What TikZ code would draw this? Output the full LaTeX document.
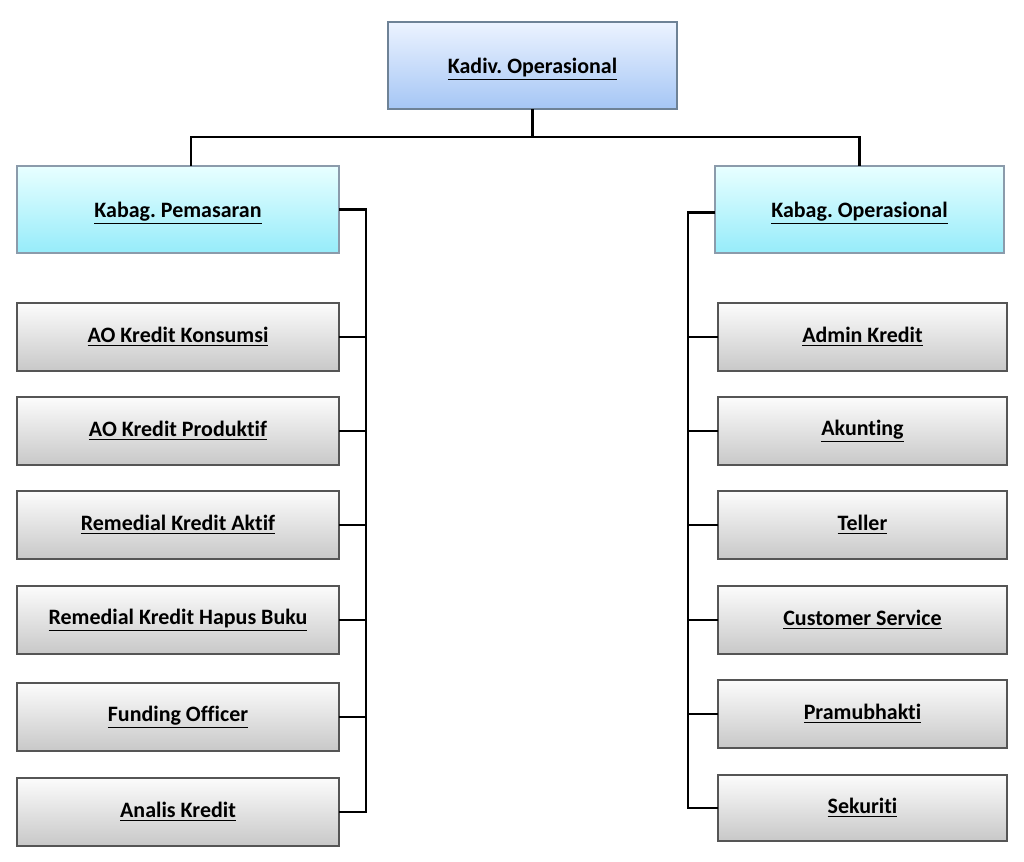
\documentclass[tikz,border=0pt]{standalone}
\usepackage{fontspec}
\setmainfont{Carlito}[Ligatures=NoCommon]
\usetikzlibrary{positioning, calc, shadings}
\definecolor{headtop}{RGB}{236,243,255}
\definecolor{headbot}{RGB}{165,198,245}
\definecolor{kabtop}{RGB}{232,255,255}
\definecolor{kabbot}{RGB}{150,236,250}
\definecolor{stafftop}{RGB}{252,252,252}
\definecolor{staffbot}{RGB}{200,200,200}
\definecolor{edgeblue}{RGB}{110,130,150}
\definecolor{edgegray}{RGB}{85,85,85}
\frenchspacing
\tikzset{
    font=\fontsize{12.5}{15}\selectfont\bfseries,
    outer sep=0pt,
    org_head/.style={
        rectangle,
        draw=edgeblue,
        top color=headtop,
        bottom color=headbot,
        line width=1pt,
        minimum width=5.78cm,
        minimum height=1.74cm,
        text depth=0pt,
        align=center
    },
    org_kabag/.style={
        rectangle,
        draw=edgeblue!80,
        top color=kabtop,
        bottom color=kabbot,
        line width=1pt,
        minimum width=6.44cm,
        minimum height=1.74cm,
        text depth=0pt,
        align=center
    },
    org_staff/.style={
        rectangle,
        draw=edgegray,
        top color=stafftop,
        bottom color=staffbot,
        line width=1pt,
        minimum width=6.44cm,
        minimum height=1.36cm,
        align=center
    },
    org_line/.style={
        line width=1.2pt,
        draw=black
    }
}
\newcommand{\ultext}[1]{\underline{#1}}

\begin{document}
\begin{tikzpicture}
\useasboundingbox (0,0) rectangle (20.48,-17.22);

% --- Head ---
\node[org_head] (Kadiv) at (10.65,-1.31) {\ultext{Kadiv. Operasional}};

% --- Kabag ---
\node[org_kabag] (KabPem) at (3.56,-4.19) {\ultext{Kabag. Pemasaran}};
\node[org_kabag, minimum width=5.78cm] (KabOps) at (17.19,-4.19) {\ultext{Kabag. Operasional}};

% --- Left column (Pemasaran) ---
\node[org_staff, below=1.0cm of KabPem] (AOKons) {\ultext{AO Kredit Konsumsi}};
\node[org_staff, below=0.52cm of AOKons] (AOProd) {\ultext{AO Kredit Produktif}};
\node[org_staff, below=0.52cm of AOProd] (RemAktif) {\ultext{Remedial Kredit Aktif}};
\node[org_staff, below=0.54cm of RemAktif] (RemHapus) {\ultext{Remedial Kredit Hapus Buku}};
\node[org_staff, below=0.58cm of RemHapus] (Funding) {\ultext{Funding Officer}};
\node[org_staff, below=0.54cm of Funding] (Analis) {\ultext{Analis Kredit}};

% --- Right column (Operasional) ---
\node[org_staff, minimum width=5.78cm, below=1.0cm of KabOps, xshift=0.06cm] (Admin) {\ultext{Admin Kredit}};
\node[org_staff, minimum width=5.78cm, below=0.52cm of Admin] (Akunting) {\ultext{Akunting}};
\node[org_staff, minimum width=5.78cm, below=0.52cm of Akunting] (Teller) {\ultext{Teller}};
\node[org_staff, minimum width=5.78cm, below=0.54cm of Teller] (CustServ) {\ultext{Customer Service}};
\node[org_staff, minimum width=5.78cm, below=0.52cm of CustServ] (Pramu) {\ultext{Pramubhakti}};
\node[org_staff, minimum width=5.78cm, below=0.54cm of Pramu, minimum height=1.32cm] (Sekuriti) {\ultext{Sekuriti}};

% --- Buses ---
\coordinate (busTop) at ($(Kadiv.south)+(0,-0.56)$);
\coordinate (busL) at ($(KabPem.east)+(0.54,0)$);
\coordinate (busR) at ($(KabOps.west)+(-0.54,-0.06)$);

% --- Edges ---
\draw[org_line] (Kadiv.south) -- (busTop);
\draw[org_line] (busTop) -| ($(KabPem.north)+(0.26,0)$);
\draw[org_line] (busTop) -| (KabOps.north);

\draw[org_line] (KabPem.east) -- (busL) |- (Analis.east);
\foreach \n in {AOKons, AOProd, RemAktif, RemHapus, Funding}
    \draw[org_line] (\n.east) -- (\n.east -| busL);

\draw[org_line] (KabOps.west |- busR) -- (busR) |- (Sekuriti.west);
\foreach \n in {Admin, Akunting, Teller, CustServ, Pramu}
    \draw[org_line] (\n.west) -- (\n.west -| busR);

\end{tikzpicture}
\end{document}
